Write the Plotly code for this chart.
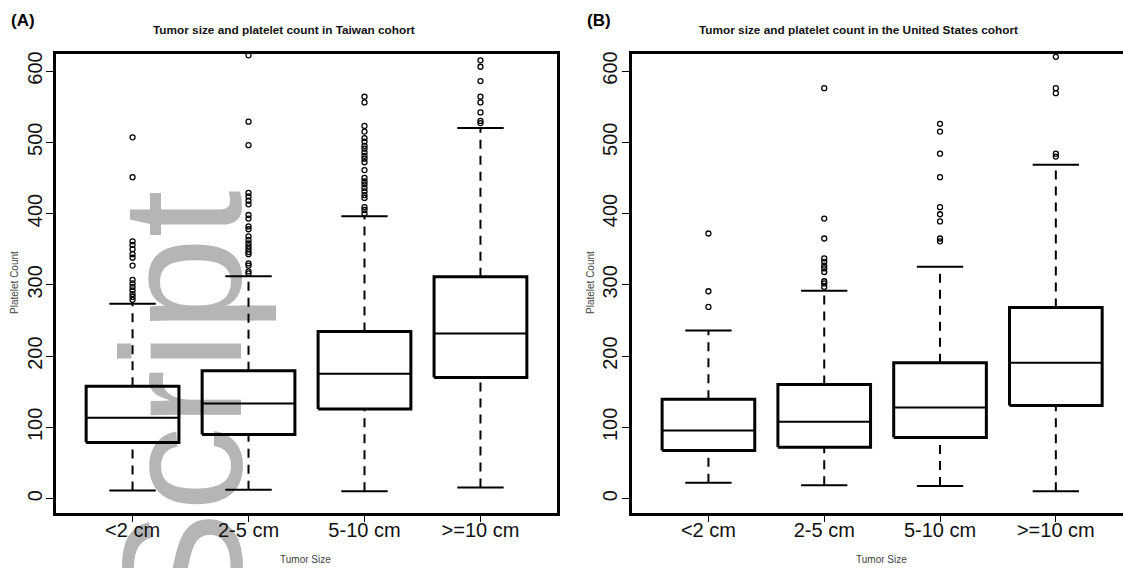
import plotly.graph_objects as go

W, H = 1123, 568

categories = ["<2 cm", "2-5 cm", "5-10 cm", ">=10 cm"]
y_ticks = [0, 100, 200, 300, 400, 500, 600]

# Panel A: Taiwan cohort
tw_q1 = [78.7, 89.9, 125.9, 170.0]
tw_median = [113.3, 133.3, 175.2, 231.6]
tw_q3 = [157.5, 179.4, 234.4, 311.4]
tw_low = [11.4, 12.4, 10.2, 15.4]
tw_high = [273.6, 311.9, 396.2, 520.2]
tw_out_lt2 = [507, 451, 361, 356, 350, 343, 338, 327, 307, 302, 297, 292, 287, 283, 279]
tw_out_2_5 = [622, 529, 496, 429, 424, 418, 413, 398, 393, 382, 378, 368, 363, 358,
              354, 350, 346, 343, 330, 327, 319, 316]
tw_out_5_10 = [564, 556, 523, 515, 506, 501, 495, 491, 486, 481, 477, 472, 461, 450,
               445, 441, 436, 431, 426, 422, 409, 405, 400]
tw_out_ge10 = [615, 606, 586, 564, 556, 542, 530, 527]

# Panel B: United States cohort
us_q1 = [67.6, 72.0, 85.7, 130.5]
us_median = [95.5, 108.0, 127.7, 190.6]
us_q3 = [139.3, 160.0, 190.6, 268.0]
us_low = [22.3, 18.6, 17.7, 10.2]
us_high = [235.8, 291.8, 325.3, 468.6]
us_out_lt2 = [372, 291, 269]
us_out_2_5 = [576, 393, 365, 337, 332, 327, 323, 318, 305, 302, 297]
us_out_5_10 = [526, 515, 484, 451, 409, 399, 389, 365, 361]
us_out_ge10 = [620, 576, 569, 484, 480]

FONT = "Arial, Liberation Sans, sans-serif"
BOX_HALF = 0.4
CAP_HALF = 0.2


def px_x(v):
    return v / W


def px_y(v):
    return 1 - v / H


fig = go.Figure()


def add_panel(xa, ya, q1, med, q3, low, high, outs):
    bx, by, mx, my, wx, wy, cx, cy, ox, oy = [], [], [], [], [], [], [], [], [], []
    for i in range(len(categories)):
        c = i + 1
        bx += [c - BOX_HALF, c + BOX_HALF, c + BOX_HALF, c - BOX_HALF, c - BOX_HALF, None]
        by += [q1[i], q1[i], q3[i], q3[i], q1[i], None]
        mx += [c - BOX_HALF, c + BOX_HALF, None]
        my += [med[i], med[i], None]
        wx += [c, c, None, c, c, None]
        wy += [low[i], q1[i], None, q3[i], high[i], None]
        cx += [c - CAP_HALF, c + CAP_HALF, None, c - CAP_HALF, c + CAP_HALF, None]
        cy += [low[i], low[i], None, high[i], high[i], None]
        ox += [c] * len(outs[i])
        oy += list(outs[i])
    common = dict(xaxis=xa, yaxis=ya, showlegend=False, hoverinfo="skip")
    fig.add_trace(go.Scatter(x=wx, y=wy, mode="lines",
                             line=dict(color="black", width=2, dash="9px,7px"), **common))
    fig.add_trace(go.Scatter(x=cx, y=cy, mode="lines",
                             line=dict(color="black", width=2), **common))
    fig.add_trace(go.Scatter(x=bx, y=by, mode="lines",
                             line=dict(color="black", width=3), **common))
    fig.add_trace(go.Scatter(x=mx, y=my, mode="lines",
                             line=dict(color="black", width=2), **common))
    fig.add_trace(go.Scatter(x=ox, y=oy, mode="markers", cliponaxis=False,
                             marker=dict(symbol="circle-open", size=5, color="black",
                                         line=dict(width=1.3, color="black")), **common))


add_panel("x", "y", tw_q1, tw_median, tw_q3, tw_low, tw_high,
          [tw_out_lt2, tw_out_2_5, tw_out_5_10, tw_out_ge10])
add_panel("x2", "y2", us_q1, us_median, us_q3, us_low, us_high,
          [us_out_lt2, us_out_2_5, us_out_5_10, us_out_ge10])

ydom = [px_y(513), px_y(51.7)]
yrange = [-20.5, 624.6]

xcommon = dict(tickmode="array", tickvals=[1, 2, 3, 4], ticktext=categories,
               ticks="outside", ticklen=6, tickwidth=1, tickcolor="black",
               showline=True, linecolor="black", linewidth=2.5, mirror=True,
               showgrid=False, zeroline=False, ticklabelstandoff=-9,
               tickfont=dict(family=FONT, size=20, color="#111"), fixedrange=True)
ycommon = dict(tickmode="array", tickvals=y_ticks, range=yrange, domain=ydom,
               ticks="outside", ticklen=7, tickwidth=1, tickcolor="black",
               showline=True, linecolor="black", linewidth=2.5,
               showgrid=False, zeroline=False, tickangle=-90,
               tickfont=dict(family=FONT, size=20, color="#111"), fixedrange=True)

fig.update_layout(
    width=W, height=H,
    margin=dict(l=0, r=0, t=0, b=0),
    paper_bgcolor="white", plot_bgcolor="rgba(0,0,0,0)",
    xaxis=dict(domain=[px_x(56), px_x(557)], range=[0.34, 4.66], anchor="y", **xcommon),
    yaxis=dict(anchor="x", mirror=True, ticklabelstandoff=-4, **ycommon),
    xaxis2=dict(domain=[px_x(632), 1.0], range=[0.34, 4.58], anchor="y2", **xcommon),
    yaxis2=dict(anchor="x2", mirror=False, ticklabelstandoff=-3, **ycommon),
)

# Watermark behind the plot
cxw, cyw = px_x(166), px_y(407)
fig.add_shape(type="rect", xref="paper", yref="paper",
              x0=cxw - 0.001, x1=cxw + 0.001, y0=cyw - 0.001, y1=cyw + 0.001,
              line=dict(width=0), fillcolor="rgba(0,0,0,0)", layer="below",
              label=dict(text="Script", textangle=-90, textposition="middle center",
                         font=dict(family=FONT, size=170, color="#b5b5b5")))

annots = [
    dict(text="<b>(A)</b>", x=px_x(23), y=px_y(19), size=17, color="black"),
    dict(text="<b>(B)</b>", x=px_x(599), y=px_y(19), size=17, color="black"),
    dict(text="<b>Tumor size and platelet count in Taiwan cohort</b>",
         x=px_x(284), y=px_y(28.5), size=11.8, color="#111"),
    dict(text="<b>Tumor size and platelet count in the United States cohort</b>",
         x=px_x(858), y=px_y(28.5), size=11.8, color="#111"),
    dict(text="Tumor Size", x=px_x(305), y=px_y(559), size=10, color="#444"),
    dict(text="Tumor Size", x=px_x(881), y=px_y(559), size=10, color="#444"),
]
for a in annots:
    fig.add_annotation(text=a["text"], x=a["x"], y=a["y"], xref="paper", yref="paper",
                       xanchor="center", yanchor="middle", showarrow=False,
                       font=dict(family=FONT, size=a["size"], color=a["color"]))
for xc in [14, 590]:
    fig.add_annotation(text="Platelet Count", x=px_x(xc), y=px_y(282), xref="paper",
                       yref="paper", xanchor="center", yanchor="middle", showarrow=False,
                       textangle=-90, font=dict(family=FONT, size=10, color="#444"))

fig.write_html("out.html", config={"displayModeBar": False},
               post_script="document.body.style.margin='0px';")
